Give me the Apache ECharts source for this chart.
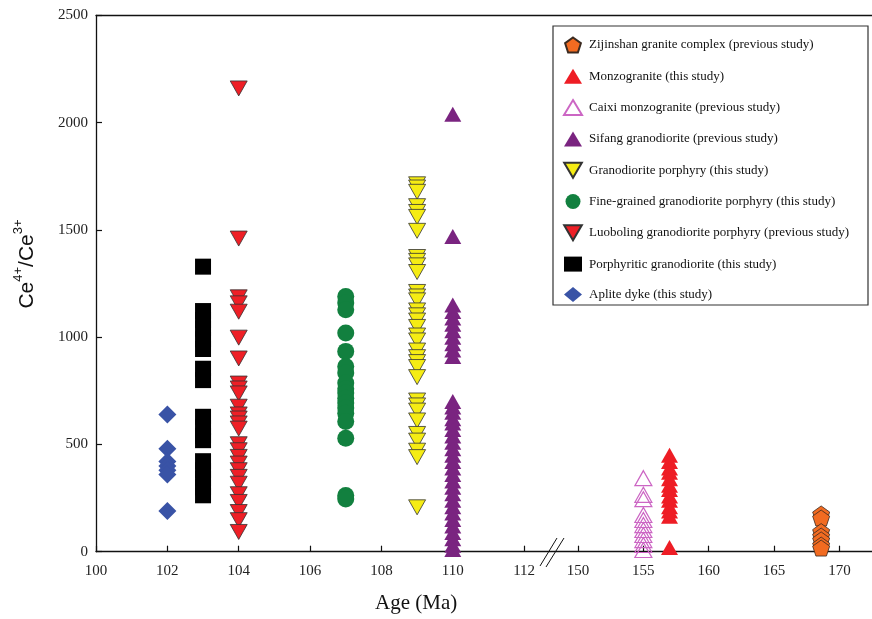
<!DOCTYPE html>
<html>
<head>
<meta charset="utf-8">
<script src="https://cdn.jsdelivr.net/npm/echarts@6/dist/echarts.min.js"></script>
<style>
  html, body { margin: 0; padding: 0; background: #fff; }
  #chart { width: 872px; height: 619px; }
</style>
</head>
<body>
<div id="chart"></div>
<script>
// Ce4+/Ce3+ vs age, broken x axis (100-112 | 150-170)

const seriesNames = [
    'Zijinshan granite complex (previous study)',
    'Monzogranite (this study)',
    'Caixi monzogranite (previous study)',
    'Sifang granodiorite (previous study)',
    'Granodiorite porphyry (this study)',
    'Fine-grained granodiorite porphyry (this study)',
    'Luoboling granodiorite porphyry (previous study)',
    'Porphyritic granodiorite (this study)',
    'Aplite dyke (this study)'
];
const seriesAges = [168.6, 157, 155, 110, 109, 107, 104, 103, 102];

const zijinshan = [176, 157, 94, 73, 55, 31, 17];
const monzogranite = [450, 420, 390, 370, 340, 310, 290, 260, 240, 210, 190, 165, 20];
const caixi = [343, 265, 245, 171, 148, 124, 101, 78, 54, 31, 8];
const sifang = [2040, 1470, 1150, 1120, 1090, 1060, 1030, 1000, 970, 940, 910,
    700, 675, 650, 620, 600, 570, 540, 510, 480, 450, 420, 390, 360, 330, 300,
    270, 240, 210, 180, 150, 120, 90, 60, 30, 10];
const granoPorphyry = [1713, 1698, 1678, 1611, 1584, 1561, 1496, 1374, 1356, 1335,
    1304, 1211, 1190, 1172, 1125, 1102, 1078, 1048, 1008, 985, 938, 907, 884, 861,
    814, 705, 682, 658, 612, 549, 518, 471, 441, 207];
const fineGrained = [1190, 1160, 1128, 1020, 934, 864, 833, 786, 760, 740, 715, 693,
    670, 646, 607, 529, 262, 246];
const luoboling = [2160, 1460, 1186, 1158, 1119, 998, 901, 784, 761, 738, 676, 640,
    621, 598, 574, 501, 473, 442, 411, 380, 349, 317, 268, 232, 185, 147, 92];
const porphyritic = [1329, 1122, 1080, 1040, 990, 945, 853, 800, 629, 580, 540, 520,
    422, 380, 340, 300, 263];
const aplite = [640, 480, 420, 400, 380, 360, 190];

const xTickLabels = [100, 102, 104, 106, 108, 110, 112, 150, 155, 160, 165, 170];

// broken axis: ages >= 150 are compressed and shifted next to 112
const BREAK_START = 113.51;
const RIGHT_SCALE = 0.3664;
function toAxis(age) {
    return age <= 113 ? age : BREAK_START + (age - 150) * RIGHT_SCALE;
}
function fromAxis(v) {
    return v <= 113 ? Math.round(v) : Math.round(150 + (v - BREAK_START) / RIGHT_SCALE);
}

const PENTAGON = 'path://M50,0 L97.6,34.5 L79.4,90.5 L20.6,90.5 L2.4,34.5 Z';
const DOWN_TRI = 'path://M0,0 L20,0 L10,17 Z';

const styles = [
    { symbol: PENTAGON, size: [17, 16], itemStyle: { color: '#f26b21', borderColor: '#3a2a20', borderWidth: 0.8 } },
    { symbol: 'triangle', size: [17, 15], itemStyle: { color: '#ee1d25' } },
    { symbol: 'triangle', size: [17, 15], itemStyle: { color: 'rgba(255,255,255,0)', borderColor: '#cc66c4', borderWidth: 1.2 } },
    { symbol: 'triangle', size: [17, 15], itemStyle: { color: '#7a2480' } },
    { symbol: DOWN_TRI, size: [17, 15], itemStyle: { color: '#f5ec14', borderColor: '#333', borderWidth: 0.8 } },
    { symbol: 'circle', size: 17, itemStyle: { color: '#12803f' } },
    { symbol: DOWN_TRI, size: [17, 15], itemStyle: { color: '#ee1f26', borderColor: '#333', borderWidth: 0.8 } },
    { symbol: 'rect', size: 16, itemStyle: { color: '#000' } },
    { symbol: 'diamond', size: 18, itemStyle: { color: '#3953a6' } }
];
const values = [zijinshan, monzogranite, caixi, sifang, granoPorphyry, fineGrained, luoboling, porphyritic, aplite];

const chart = echarts.init(document.getElementById('chart'));
const serif = 'Liberation Serif';

chart.setOption({
    animation: false,
    grid: { left: 96, right: 0, top: 15.5, bottom: 67.3 },
    legend: {
        orient: 'vertical',
        left: 558,
        top: 31.5,
        itemWidth: 18,
        itemHeight: 15,
        itemGap: 15.3,
        textStyle: { fontFamily: serif, fontSize: 13, color: '#111', padding: [0, 0, 0, 2] },
        data: seriesNames.map((n, i) => ({ name: n, icon: styles[i].symbol }))
    },
    xAxis: [{
        type: 'value',
        min: 100,
        max: 121.75,
        splitLine: { show: false },
        axisLine: { show: true, lineStyle: { color: '#111', width: 1.3 } },
        axisTick: { show: true, inside: true, length: 6, lineStyle: { color: '#111', width: 1.2 },
            customValues: xTickLabels.map(toAxis) },
        axisLabel: { fontFamily: serif, fontSize: 15, color: '#222', margin: 12,
            customValues: xTickLabels.map(toAxis), formatter: v => String(fromAxis(v)) }
    }, {
        type: 'value',
        position: 'top',
        min: 100,
        max: 121.75,
        splitLine: { show: false },
        axisLine: { show: true, lineStyle: { color: '#111', width: 1.3 } },
        axisTick: { show: false },
        axisLabel: { show: false }
    }],
    yAxis: {
        type: 'value',
        min: 0,
        max: 2500,
        interval: 500,
        splitLine: { show: false },
        axisLine: { show: true, lineStyle: { color: '#111', width: 1.3 } },
        axisTick: { show: true, inside: true, length: 6, lineStyle: { color: '#111', width: 1.2 } },
        axisLabel: { fontFamily: serif, fontSize: 15, color: '#222', margin: 8, formatter: v => String(v) }
    },
    graphic: [
        { type: 'rect', shape: { x: 553, y: 26, width: 315, height: 279 },
          style: { fill: 'none', stroke: '#333', lineWidth: 1.2 }, z: 100 },
        { type: 'line', shape: { x1: 540, y1: 566, x2: 557, y2: 538 }, style: { stroke: '#111', lineWidth: 1 }, z: 100 },
        { type: 'line', shape: { x1: 546, y1: 567, x2: 564, y2: 538 }, style: { stroke: '#111', lineWidth: 1 }, z: 100 },
        { type: 'text', left: 375, top: 593,
          style: { text: 'Age (Ma)', fontFamily: serif, fontSize: 21, fill: '#111' } },
        { type: 'text', x: 27, y: 264, rotation: Math.PI / 2,
          style: {
              text: 'Ce{sup|4+}/Ce{sup|3+}',
              fontFamily: 'Liberation Sans', fontSize: 21, fill: '#111',
              align: 'center', verticalAlign: 'middle',
              rich: { sup: { fontFamily: 'Liberation Sans', fontSize: 13, verticalAlign: 'top', lineHeight: 30, fill: '#111' } }
          } }
    ],
    series: seriesNames.map((name, i) => ({
        name: name,
        type: 'scatter',
        symbol: styles[i].symbol,
        symbolSize: styles[i].size,
        itemStyle: Object.assign({ opacity: 1 }, styles[i].itemStyle),
        data: values[i].map(v => [toAxis(seriesAges[i]), v])
    }))
});
</script>
</body>
</html>
